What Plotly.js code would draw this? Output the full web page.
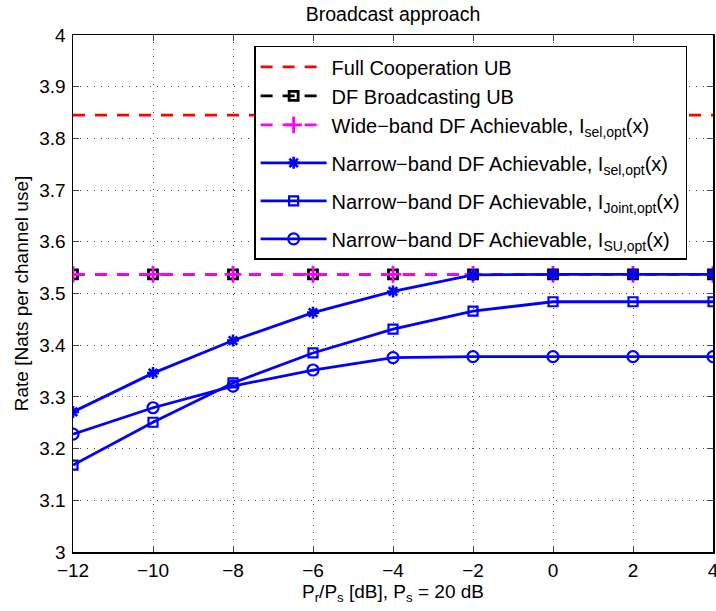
<!DOCTYPE html>
<html><head><meta charset="utf-8">
<script src="https://cdn.plot.ly/plotly-3.0.1.min.js"></script>
<style>body{margin:0;padding:0;background:#fff}#chart{width:716px;height:611px}</style>
</head><body><div id="chart"></div>
<script>
const xVals = [-12, -10, -8, -6, -4, -2, 0, 2, 4];
const fullCoopUB = [3.845, 3.845, 3.845, 3.845, 3.845, 3.845, 3.845, 3.845, 3.845];
const dfBroadcastUB = [3.537, 3.537, 3.537, 3.537, 3.537, 3.537, 3.537, 3.537, 3.537];
const wideBandSel = [3.537, 3.537, 3.537, 3.537, 3.537, 3.537, 3.537, 3.537, 3.537];
const narrowSel = [3.271, 3.346, 3.409, 3.463, 3.504, 3.536, 3.537, 3.537, 3.537];
const narrowJoint = [3.168, 3.251, 3.327, 3.385, 3.431, 3.466, 3.484, 3.484, 3.484];
const narrowSU = [3.228, 3.279, 3.321, 3.352, 3.376, 3.378, 3.378, 3.378, 3.378];
const xTicks = [-12, -10, -8, -6, -4, -2, 0, 2, 4];
const xTickText = ['\u221212', '\u221210', '\u22128', '\u22126', '\u22124', '\u22122', '0', '2', '4'];
const yTicks = [3, 3.1, 3.2, 3.3, 3.4, 3.5, 3.6, 3.7, 3.8, 3.9, 4];
const yTickText = ['3', '3.1', '3.2', '3.3', '3.4', '3.5', '3.6', '3.7', '3.8', '3.9', '4'];
const names = [
  'Full Cooperation UB',
  'DF Broadcasting UB',
  'Wide\u2212band DF Achievable, I<sub>sel,opt</sub>(x)',
  'Narrow\u2212band DF Achievable, I<sub>sel,opt</sub>(x)',
  'Narrow\u2212band DF Achievable, I<sub>Joint,opt</sub>(x)',
  'Narrow\u2212band DF Achievable, I<sub>SU,opt</sub>(x)'
];
const blue = '#0000ff';
const dashPat = '12px,10px';
const traces = [
  {x: xVals, y: fullCoopUB, name: names[0], legendgroup: 'a', mode: 'lines',
   line: {color: '#ff0000', width: 2.8, dash: dashPat}},
  {x: xVals, y: dfBroadcastUB, name: names[1], legendgroup: 'a', mode: 'lines+markers',
   line: {color: '#000000', width: 2.8, dash: dashPat},
   marker: {symbol: 'square-open', size: 9, color: '#000000', line: {width: 2.8, color: '#000000'}}},
  {x: xVals, y: wideBandSel, name: names[2], legendgroup: 'a', mode: 'lines+markers',
   line: {color: '#ff00ff', width: 2.8, dash: dashPat},
   marker: {symbol: 'cross-thin-open', size: 12, color: '#ff00ff', line: {width: 2.8, color: '#ff00ff'}}},
  {x: xVals, y: narrowSel, name: names[3], legendgroup: 'd', mode: 'lines+markers',
   line: {color: blue, width: 2.8},
   marker: {symbol: 'asterisk-open', size: 10, color: blue, line: {width: 2.6, color: blue}}},
  {x: xVals, y: narrowJoint, name: names[4], legendgroup: 'e', mode: 'lines+markers',
   line: {color: blue, width: 2.8},
   marker: {symbol: 'square-open', size: 9, color: blue, line: {width: 2.2, color: blue}}},
  {x: xVals, y: narrowSU, name: names[5], legendgroup: 'f', mode: 'lines+markers',
   line: {color: blue, width: 2.8},
   marker: {symbol: 'circle-open', size: 11, color: blue, line: {width: 2.2, color: blue}}}
];
const fontFam = 'Liberation Sans, Arial, sans-serif';
const axisCommon = {
  showgrid: true, gridcolor: '#444', griddash: '1px,6px', gridwidth: 1,
  zeroline: false, showline: true, linecolor: '#000', linewidth: 1.5, mirror: 'ticks',
  ticks: 'inside', ticklen: 6, tickcolor: '#444', tickwidth: 1,
  tickfont: {size: 19, family: fontFam, color: '#000'}, automargin: false,
  ticklabeloverflow: 'allow'
};
const layout = {
  width: 716, height: 611,
  margin: {l: 73, r: 3, t: 35, b: 59},
  paper_bgcolor: '#fff', plot_bgcolor: '#fff',
  font: {family: fontFam, color: '#000', size: 19},
  title: {text: 'Broadcast approach', font: {size: 19.5, family: fontFam, color: '#000'},
          xref: 'paper', x: 0.5, xanchor: 'center', y: 0.977, yanchor: 'middle'},
  xaxis: Object.assign({}, axisCommon, {
          range: [-12, 4], tickvals: xTicks, ticktext: xTickText, ticklabelstandoff: 1,
          title: {text: 'P<sub>r</sub>/P<sub>s</sub> [dB], P<sub>s</sub> = 20 dB', font: {size: 19}, standoff: 4}}),
  yaxis: Object.assign({}, axisCommon, {
          range: [3, 4], tickvals: yTicks, ticktext: yTickText, ticklabelstandoff: 2,
          title: {text: 'Rate [Nats per channel use]', font: {size: 19}, standoff: 5}}),
  legend: {x: 0.283, y: 0.979, xanchor: 'left', yanchor: 'top',
           bgcolor: '#fff', bordercolor: '#000', borderwidth: 1.5, itemwidth: 66,
           font: {size: 20, family: fontFam, color: '#000'}, tracegroupgap: 9},
  showlegend: true
};
Plotly.newPlot('chart', traces, layout, {displayModeBar: false, staticPlot: true});
</script>
</body></html>
